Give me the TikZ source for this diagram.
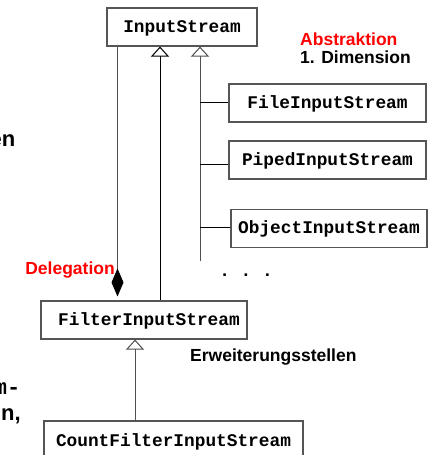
\documentclass[tikz,border=0pt]{standalone}
\usepackage{fontspec}
\setmainfont{Liberation Sans}
\setsansfont{Liberation Sans}
\setmonofont{Liberation Mono}
\usetikzlibrary{arrows.meta}

\definecolor{boxgray}{HTML}{555555}
\definecolor{linegray}{HTML}{505050}
\definecolor{hotred}{HTML}{FF0000}

\newcommand\clsfont{\ttfamily\bfseries\fontsize{17.8}{20}\selectfont}
\newcommand\lblfont{\sffamily\bfseries\fontsize{17.5}{20}\selectfont}
\newcommand\fragfont{\sffamily\bfseries\fontsize{22}{26}\selectfont}
\newcommand\fragmono{\ttfamily\bfseries\fontsize{22}{26}\selectfont}

\begin{document}
\begin{tikzpicture}[x=1pt,y=-1pt,
  cls/.style={draw=boxgray, line width=1.1pt, fill=white, inner sep=0pt,
    minimum height=38pt, font=\clsfont, text height=10.5pt, text depth=0pt},
  lbl/.style={inner sep=0pt, font=\lblfont},
  frag/.style={inner sep=0pt, font=\fragfont},
  conn/.style={line width=1pt},
  inh/.style={conn, -{Triangle[open,length=10pt,width=18pt]}},
]
\useasboundingbox (0,0) rectangle (434,455);

% classes
\node[cls, minimum width=150pt] (is) at (182,27) {InputStream};
\node[cls, minimum width=197pt] (fileis) at (327.5,103) {FileInputStream};
\node[cls, minimum width=197pt] (pipeis) at (327.5,160) {PipedInputStream};
\node[cls, minimum width=196pt] (objis) at (329,228.5) {ObjectInputStream};
\node[cls, minimum width=206pt] (fis) at (144,320) {\hspace*{10pt}FilterInputStream};
\node[cls, minimum width=259pt, minimum height=41pt] (cfis) at (173.5,441.5) {CountFilterInputStream};

% x positions of the vertical connectors
\coordinate (xl) at (117.5,0);
\coordinate (xm) at (160,0);
\coordinate (xr) at (200,0);
\coordinate (xb) at (135,0);
\coordinate (rend) at (200,261);

% inheritance
\draw[inh] (fis.north -| xm) -- (is.south -| xm);
\draw[inh, draw=linegray] (rend) -- (is.south -| xr);
\draw[conn] ([yshift=1pt]fileis.west) -- ([yshift=1pt]fileis.west -| xr);
\draw[conn] ([yshift=-4pt]pipeis.west) -- ([yshift=-4pt]pipeis.west -| xr);
\draw[conn] ([yshift=1.5pt]objis.west) -- ([yshift=1.5pt]objis.west -| xr);
\draw[inh, draw=linegray] (cfis.north -| xb) -- (fis.south -| xb);

% delegation
\draw[conn, draw=linegray, {Diamond[length=28pt,width=12pt,black]}-, shorten <=4pt]
  (fis.north -| xl) -- (is.south -| xl);

\node[inner sep=0pt, font=\clsfont, anchor=base] (dots) at (246,276) {. . .};

% labels
\node[lbl, text=hotred, anchor=base west] (abs) at (300,45) {Abstraktion};
\node[lbl, anchor=base west] (dim) at (300,63) {1. Dimension};
\node[lbl, text=hotred, anchor=base east] (del) at (115,274) {Delegation};
\node[lbl, anchor=base west] (erw) at (190,361) {Erweiterungsstellen};

% text running in from the left edge
\node[frag, anchor=base east] (f1) at (15.5,146) {en};
\node[inner sep=0pt, font=\fragmono, anchor=base east] (f2) at (20.5,394) {m-};
\node[frag, anchor=base east] (f3) at (21,420) {n,};
\end{tikzpicture}
\end{document}
